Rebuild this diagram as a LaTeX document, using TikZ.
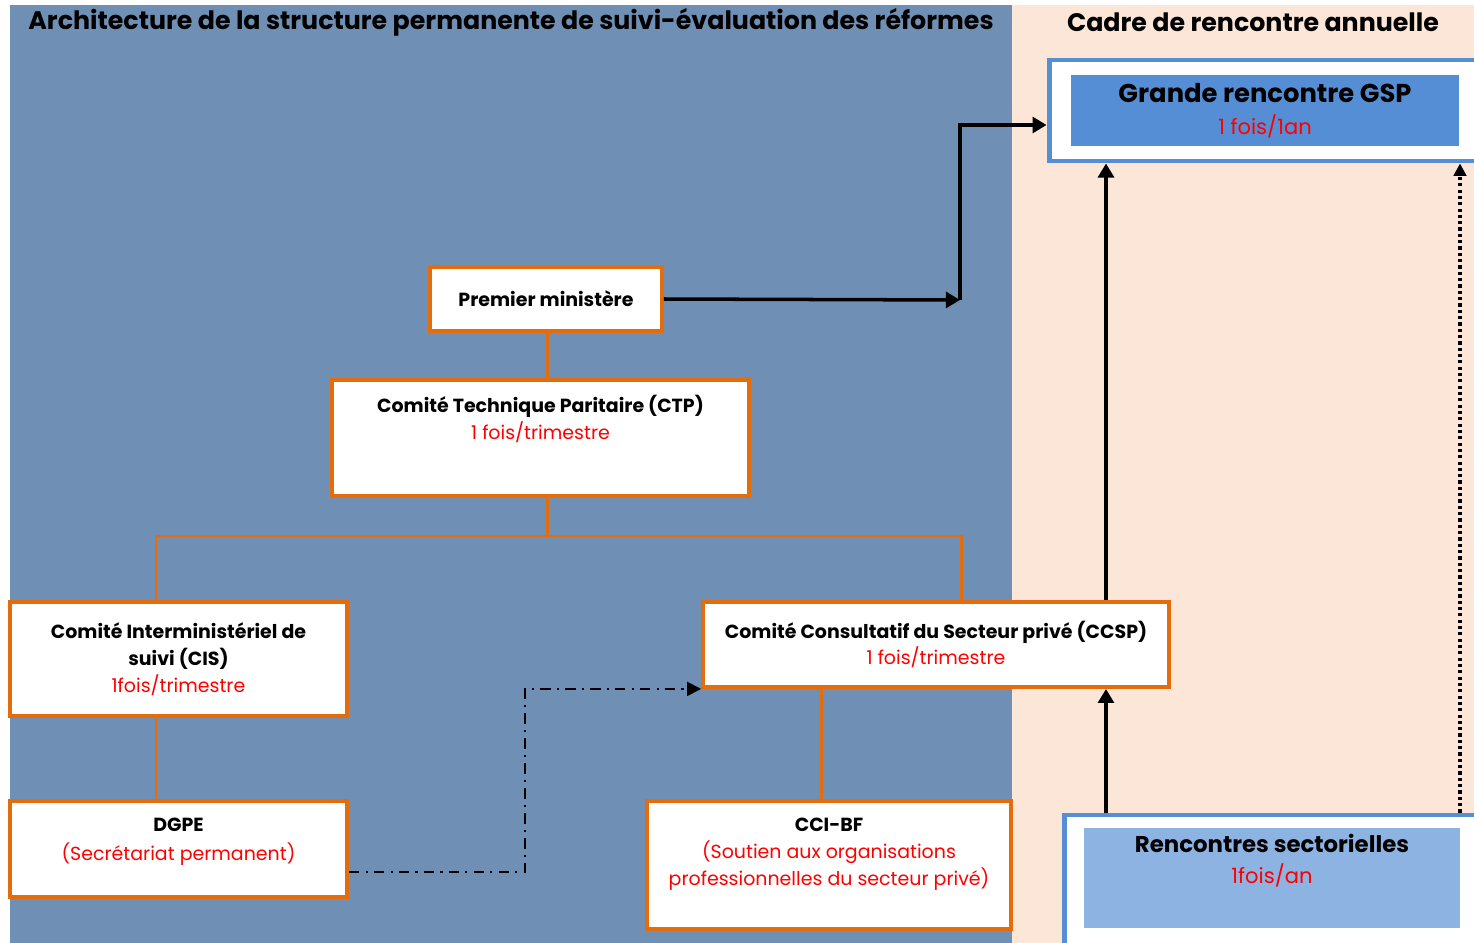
\documentclass[tikz,border=0pt]{standalone}
\usepackage{fontspec}
\setmainfont{Poppins}
\usepackage{xcolor}
\usetikzlibrary{arrows.meta, calc}

\definecolor{panelblue}{HTML}{6F8FB5}
\definecolor{panelpeach}{HTML}{FCE6D7}
\definecolor{boxorange}{HTML}{E46C0A}
\definecolor{gspblue}{HTML}{558ED5}
\definecolor{rsblue}{HTML}{8DB3E2}
\definecolor{freq}{HTML}{FF0000}

\begin{document}
\begin{tikzpicture}[x=0.02cm, y=-0.02cm,
    box/.style={rectangle, draw=boxorange, line width=2.2pt, fill=white, align=center, font=\fontsize{10.8}{15.3}\selectfont\bfseries},
    outer/.style={rectangle, draw=gspblue, line width=2.8pt, fill=white},
    inner/.style={rectangle, align=center, font=\fontsize{14.7}{18}\selectfont\bfseries},
    title/.style={font=\fontsize{14.4}{16}\selectfont\bfseries},
    link/.style={boxorange, line width=1.7pt},
    arrow/.style={-{Triangle[length=8pt, width=9pt]}, line width=2pt},
    dashdot/.style={-{Triangle[length=8pt, width=8pt]}, line width=1.1pt, dash pattern=on 6pt off 3.5pt on 1.2pt off 3.5pt},
    dotline/.style={-{Triangle[length=7pt, width=7pt]}, line width=2pt, dash pattern=on 1.8pt off 1.8pt}
]
\newcommand{\fq}[1]{\textcolor{freq}{\mdseries #1}}
\newcommand{\fqbig}[1]{\textcolor{freq}{\fontsize{12}{14}\selectfont\mdseries #1}}

\useasboundingbox (0,0) rectangle (1474,943);
\fill[white] (0,0) rectangle (1474,943);
\fill[panelblue] (10,5) rectangle (1012,943);
\fill[panelpeach] (1012,5) rectangle (1474,943);

% titles
\node[title] (t-left) at (511,22) {Architecture de la structure permanente de suivi-évaluation des réformes};
\node[title] (t-right) at (1253,22) {Cadre de rencontre annuelle};

% hierarchy
\node[box, minimum width=4.64cm, minimum height=1.28cm] (pm) at (546,299) {Premier ministère};
\node[box, minimum width=8.34cm, minimum height=2.32cm, text depth=24pt] (ctp) at (540.5,438) {Comité Technique Paritaire (CTP)\\\fq{1 fois/trimestre}};
\node[box, minimum width=6.74cm, minimum height=2.28cm] (cis) at (178.5,659) {Comité Interministériel de\\suivi (CIS)\\\fq{1fois/trimestre}};
\node[box, minimum width=6.74cm, minimum height=1.92cm, text depth=11pt, font=\fontsize{10.8}{16.4}\selectfont\bfseries] (dgpe) at (178.5,849) {DGPE\\\fq{(Secrétariat permanent)}};
\node[box, minimum width=9.32cm, minimum height=1.70cm] (ccsp) at (936,644.5) {Comité Consultatif du Secteur privé (CCSP)\\\fq{1 fois/trimestre}};
\node[box, minimum width=7.28cm, minimum height=2.56cm, text depth=15pt] (cci) at (829,865) {CCI-BF\\\fq{(Soutien aux organisations}\\\fq{professionnelles du secteur privé)}};

% annual meetings
\node[outer, minimum width=8.66cm, minimum height=2.02cm] (gsp) at (1265.5,110.5) {};
\node[inner, fill=gspblue, minimum width=7.76cm, minimum height=1.42cm] (gsp-in) at (1265,110.5) {Grande rencontre GSP\\\fqbig{1 fois/1an}};
\node[outer, minimum width=8.36cm, minimum height=2.6cm] (rs) at (1273,880) {};
\node[inner, fill=rsblue, minimum width=7.52cm, minimum height=2.0cm, text depth=22pt, font=\fontsize{13}{18}\selectfont\bfseries] (rs-in) at (1272,878) {Rencontres sectorielles\\\fqbig{1fois/an}};

% junctions
\coordinate (j1) at (156,536);
\coordinate (j2) at (961,536);
\coordinate (j3) at (547,536);
\coordinate (k) at (821,744);
\coordinate (bend) at (960,300);
\coordinate (hi) at (0,125);
\coordinate (up) at (1106,0);
\coordinate (dt) at (1460,0);
\coordinate (dd) at (525,872);

\draw[link] (pm.south -| j3) -- (ctp.north -| j3);
\draw[link] (ctp.south -| j3) -- (j3);
\draw[link] (cis.north -| j1) -- (j1) -- (j2) -- (ccsp.north -| j2);
\draw[link] (cis.south -| j1) -- (dgpe.north -| j1);
\draw[link] (ccsp.south -| k) -- (cci.north -| k);

\draw[arrow] (pm.east) -- (bend);
\draw[arrow] (bend) |- (gsp.west |- hi);
\draw[arrow] (rs.north -| up) -- (ccsp.south -| up);
\draw[arrow] (ccsp.north -| up) -- (gsp.south -| up);
\draw[dotline] (rs.north -| dt) -- (gsp.south -| dt);
\draw[dashdot] (dgpe.east |- dd) -- (dd) |- (ccsp.south west);

\end{tikzpicture}
\end{document}
